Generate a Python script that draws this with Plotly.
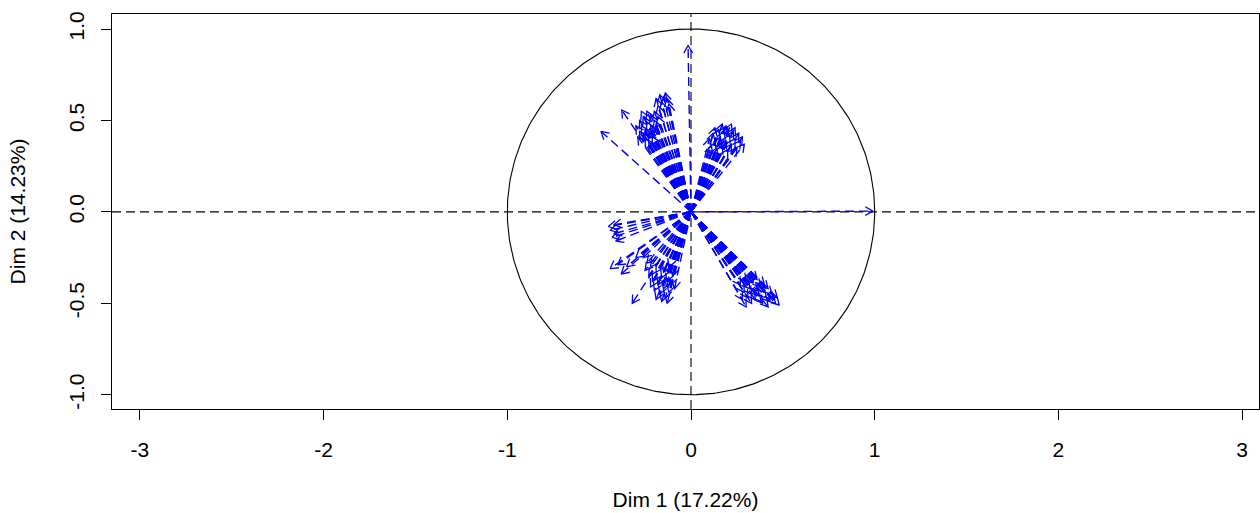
import numpy as np
import plotly.graph_objects as go

# Correlation-circle variable coordinates (Dim 1, Dim 2)
ul_x = [-0.19, -0.17, -0.16, -0.14, -0.13, -0.12, -0.18, -0.15,
        -0.28, -0.27, -0.26, -0.25, -0.24, -0.23, -0.22, -0.21, -0.26, -0.28,
        -0.24, -0.22, -0.20, -0.27, -0.30, -0.25, -0.23, -0.21, -0.19, -0.29,
        -0.20, -0.18, -0.377, -0.49]
ul_y = [0.62, 0.64, 0.60, 0.65, 0.62, 0.59, 0.58, 0.63,
        0.50, 0.47, 0.52, 0.45, 0.49, 0.43, 0.47, 0.41, 0.43, 0.44,
        0.55, 0.53, 0.50, 0.55, 0.47, 0.40, 0.38, 0.45, 0.48, 0.41,
        0.55, 0.52, 0.557, 0.44]

ur_x = [0.10, 0.12, 0.13, 0.15, 0.16, 0.17, 0.18, 0.19, 0.20, 0.21, 0.22, 0.23,
        0.24, 0.25, 0.26, 0.27, 0.28, 0.14, 0.11, 0.19, 0.22, 0.17, 0.24, 0.29,
        0.20, 0.13]
ur_y = [0.40, 0.43, 0.38, 0.45, 0.41, 0.36, 0.44, 0.39, 0.46, 0.42, 0.37, 0.44,
        0.40, 0.35, 0.43, 0.39, 0.41, 0.35, 0.36, 0.47, 0.48, 0.48, 0.46, 0.37,
        0.34, 0.46]

lr_x = [0.27, 0.29, 0.30, 0.31, 0.32, 0.33, 0.34, 0.35, 0.36, 0.37, 0.38, 0.39,
        0.40, 0.41, 0.42, 0.43, 0.44, 0.45, 0.46, 0.47, 0.48, 0.28, 0.33, 0.36,
        0.40, 0.30, 0.38, 0.42]
lr_y = [-0.40, -0.44, -0.38, -0.47, -0.42, -0.45, -0.39, -0.48, -0.43, -0.46,
        -0.41, -0.50, -0.44, -0.47, -0.42, -0.49, -0.45, -0.48, -0.50, -0.47,
        -0.51, -0.48, -0.50, -0.37, -0.40, -0.52, -0.49, -0.52]

ll_x = [-0.10, -0.11, -0.12, -0.13, -0.14, -0.15, -0.16, -0.17, -0.18, -0.19,
        -0.20, -0.21, -0.22, -0.23, -0.24, -0.25, -0.13, -0.16, -0.09, -0.12,
        -0.19, -0.22, -0.26, -0.15,
        -0.45, -0.44, -0.42, -0.43, -0.41, -0.42, -0.44, -0.40, -0.38, -0.35,
        -0.32, -0.30]
ll_y = [-0.35, -0.40, -0.44, -0.38, -0.47, -0.42, -0.36, -0.45, -0.40, -0.33,
        -0.43, -0.38, -0.30, -0.35, -0.28, -0.32, -0.50, -0.49, -0.42, -0.30,
        -0.48, -0.41, -0.25, -0.33,
        -0.08, -0.10, -0.07, -0.14, -0.16, -0.12, -0.31, -0.29, -0.34, -0.30,
        -0.50, -0.25]

axis_x = [-0.016, 0.99]
axis_y = [0.91, 0.004]

xticks = [-3, -2, -1, 0, 1, 2, 3]
yticks = [-1.0, -0.5, 0.0, 0.5, 1.0]
xlabel = "Dim 1 (17.22%)"
ylabel = "Dim 2 (14.23%)"

ex = np.array(ul_x + ur_x + lr_x + ll_x + axis_x)
ey = np.array(ul_y + ur_y + lr_y + ll_y + axis_y)

BLUE = "#0000FF"
fig = go.Figure()

# unit circle
t = np.linspace(0, 2 * np.pi, 400)
fig.add_trace(go.Scatter(x=np.cos(t), y=np.sin(t), mode="lines",
                         line=dict(color="black", width=1.1),
                         hoverinfo="skip", showlegend=False))

# dashed axes through origin
XR = [-3.152, 3.092]
YR = [-1.078, 1.082]
fig.add_trace(go.Scatter(x=[XR[0], XR[1]], y=[0, 0], mode="lines",
                         line=dict(color="black", width=1.1, dash="9px,5px"),
                         hoverinfo="skip", showlegend=False))
fig.add_trace(go.Scatter(x=[0, 0], y=[YR[0], YR[1]], mode="lines",
                         line=dict(color="black", width=1.1, dash="9px,5px"),
                         hoverinfo="skip", showlegend=False))

# arrow shafts, one trace per arrow so each dash pattern starts at origin
for xe, ye in zip(ex, ey):
    fig.add_trace(go.Scatter(x=[0, xe], y=[0, ye], mode="lines",
                             line=dict(color=BLUE, width=1.4, dash="9px,5px"),
                             hoverinfo="skip", showlegend=False))

# arrow heads (open V)
L = 0.048
half = np.deg2rad(30)
hx, hy = [], []
for xe, ye in zip(ex, ey):
    th = np.arctan2(ye, xe)
    hx += [xe - L * np.cos(th - half), xe, xe - L * np.cos(th + half), None]
    hy += [ye - L * np.sin(th - half), ye, ye - L * np.sin(th + half), None]
fig.add_trace(go.Scatter(x=hx, y=hy, mode="lines",
                         line=dict(color=BLUE, width=1.3),
                         hoverinfo="skip", showlegend=False))

font = dict(family="Liberation Sans, Arial, sans-serif", size=21, color="black")
fig.update_layout(
    width=1260, height=513,
    margin=dict(l=112, r=1, t=14, b=104),
    paper_bgcolor="white", plot_bgcolor="white",
    font=font,
    xaxis=dict(range=XR, tickvals=xticks, ticktext=[str(v) for v in xticks],
               showgrid=False, zeroline=False, showline=True, mirror=True,
               linecolor="black", linewidth=1, ticks="outside", ticklen=10,
               tickcolor="black", ticklabelstandoff=12, automargin=False,
               title=dict(text=xlabel, standoff=32, font=font)),
    yaxis=dict(range=YR, tickvals=yticks, ticktext=[f"{v:.1f}" for v in yticks],
               showgrid=False, zeroline=False, showline=True, mirror=True,
               linecolor="black", linewidth=1, ticks="outside", ticklen=10,
               tickcolor="black", tickangle=-90, ticklabelstandoff=9,
               automargin=False,
               title=dict(text=ylabel, standoff=33, font=font)),
)
fig.write_html(
    "out.html",
    config={"displayModeBar": False},
    post_script="document.body.style.margin='0';document.body.style.overflow='hidden';",
)
